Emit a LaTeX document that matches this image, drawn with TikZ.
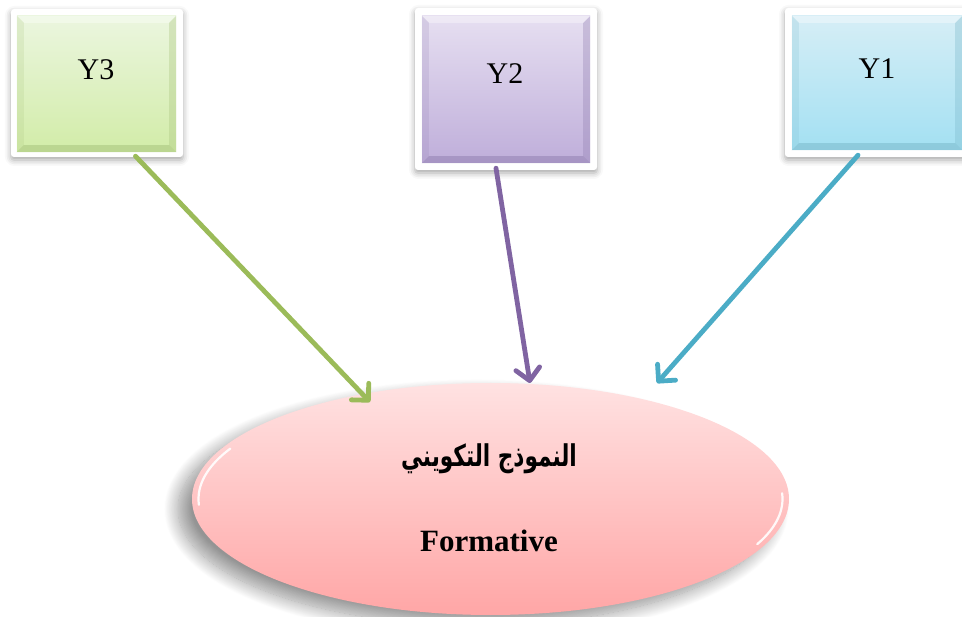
\documentclass[tikz,border=0pt]{standalone}
\usepackage{fontspec}
\setmainfont{Liberation Serif}
\newfontfamily\arabicfont[Script=Arabic]{DejaVu Sans}
\TeXXeTstate=1
\usetikzlibrary{arrows.meta,shadows.blur,calc,shapes.geometric}
\definecolor{gTop}{HTML}{EBF6DF}
\definecolor{gBot}{HTML}{D2ECA8}
\definecolor{gDark}{HTML}{A9C47E}
\definecolor{pTop}{HTML}{E6DFF1}
\definecolor{pBot}{HTML}{BFAEDA}
\definecolor{pDark}{HTML}{9381B2}
\definecolor{bTop}{HTML}{D6EEF6}
\definecolor{bBot}{HTML}{A3E0F2}
\definecolor{bDark}{HTML}{7CB9CB}
\definecolor{eTop}{HTML}{FFE2E2}
\definecolor{eBot}{HTML}{FFA6A6}
\definecolor{gLine}{HTML}{9BBB59}
\definecolor{pLine}{HTML}{8064A2}
\definecolor{bLine}{HTML}{4BACC6}
\tikzset{
  frame/.style={draw=none, fill=white, rectangle, rounded corners=3pt, inner sep=0pt,
    blur shadow={shadow xshift=0pt, shadow yshift=-3pt, shadow blur radius=6pt, shadow opacity=35}},
  inbox/.style={rectangle, inner sep=0pt, draw=none},
  boxtext/.style={font=\fontsize{30}{34}\selectfont, inner sep=0pt},
  conn/.style={line width=4.8pt, line cap=round, line join=round,
    -{Straight Barb[length=12pt, width=24pt, line width=4.8pt, line cap=round, line join=round]}},
  ovalnode/.style={ellipse, minimum width=597pt, minimum height=232pt, inner sep=0pt,
    top color=eTop, bottom color=eBot, draw=none,
    blur shadow={shadow xshift=-14pt, shadow yshift=-10pt, shadow blur radius=14pt, shadow blur steps=20, shadow opacity=42}},
  gloss/.style={white, line width=2.2pt, line cap=round, opacity=0.9},
}
\newcommand{\bevel}[2]{% name, dark colour
  \fill[#2, opacity=0.55] (#1.south west) -- (#1.south east) -- ([xshift=-7pt,yshift=7pt]#1.south east) -- ([xshift=7pt,yshift=7pt]#1.south west) -- cycle;
  \fill[#2, opacity=0.35] (#1.south east) -- (#1.north east) -- ([xshift=-7pt,yshift=-7pt]#1.north east) -- ([xshift=-7pt,yshift=7pt]#1.south east) -- cycle;
  \fill[white, opacity=0.35] (#1.north west) -- (#1.north east) -- ([xshift=-7pt,yshift=-7pt]#1.north east) -- ([xshift=7pt,yshift=-7pt]#1.north west) -- cycle;
  \fill[#2, opacity=0.2] (#1.south west) -- (#1.north west) -- ([xshift=7pt,yshift=-7pt]#1.north west) -- ([xshift=7pt,yshift=7pt]#1.south west) -- cycle;
}
\begin{document}
\begin{tikzpicture}[x=1pt, y=-1pt]
\useasboundingbox (0,0) rectangle (962,617);
\clip (0,0) rectangle (962,617);
% Y3
\node[frame, minimum width=172pt, minimum height=148pt] (f3) at (97,83) {};
\node[inbox, minimum width=159pt, minimum height=136pt, top color=gTop, bottom color=gBot] (y3) at (96.5,84) {};
\bevel{y3}{gDark}
\node[boxtext] (t3) at (96,70) {Y3};
% Y2
\node[frame, minimum width=182pt, minimum height=162pt] (f2) at (506,89) {};
\node[inbox, minimum width=168pt, minimum height=147pt, top color=pTop, bottom color=pBot] (y2) at (506,89.5) {};
\bevel{y2}{pDark}
\node[boxtext] (t2) at (505,74) {Y2};
% Y1
\node[frame, minimum width=184pt, minimum height=149pt] (f1) at (877,82.5) {};
\node[inbox, minimum width=170pt, minimum height=134pt, top color=bTop, bottom color=bBot] (y1) at (877,83) {};
\bevel{y1}{bDark}
\node[boxtext] (t1) at (877,69) {Y1};
% Ellipse
\node[ovalnode] (ell) at (490.5,499) {};
\draw[gloss] ($(ell.center)+(153:292pt and 111pt)$) arc[start angle=153, end angle=183, x radius=292pt, y radius=111pt];
\draw[gloss] ($(ell.center)+(3:292pt and 111pt)$) arc[start angle=3, end angle=-24, x radius=292pt, y radius=111pt];
\node[font=\arabicfont\bfseries\fontsize{30}{36}\selectfont, inner sep=0pt, xscale=0.72, transform shape] (ar) at (489,459) {\beginR النموذج التكويني\endR};
\node[font=\bfseries\fontsize{31}{36}\selectfont, inner sep=0pt] (fm) at (489,541) {Formative};
% Connectors
\draw[conn, gLine] ([xshift=39pt,yshift=-4pt]y3.south) -- ([xshift=-120.5pt,yshift=97pt]ell.center);
\draw[conn, pLine] ([xshift=-10pt,yshift=-5pt]y2.south) -- ([xshift=39.5pt,yshift=116pt]ell.center);
\draw[conn, bLine] ([xshift=-19pt,yshift=-5pt]y1.south) -- ([xshift=166.5pt,yshift=116pt]ell.center);
\end{tikzpicture}
\end{document}
